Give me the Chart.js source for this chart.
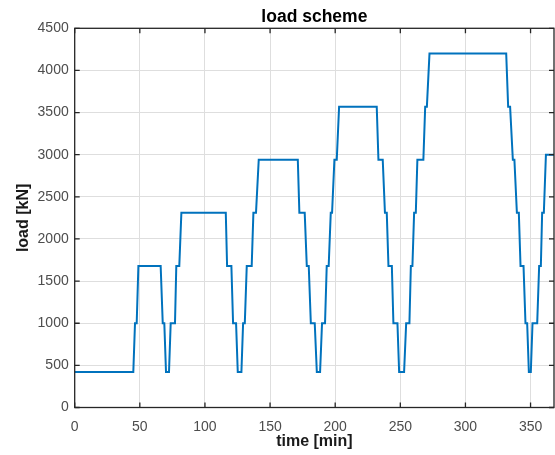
<!DOCTYPE html>
<html>
<head>
<meta charset="utf-8">
<script src="https://cdn.jsdelivr.net/npm/chart.js@4"></script>
<style>
  html, body { margin: 0; padding: 0; background: #fff; }
  #wrap { width: 555px; height: 455px; }
</style>
</head>
<body>
<div id="wrap"><canvas id="myChart"></canvas></div>
<script>
// load steps
var time = [0, 45, 46.3, 47.6, 48.9, 66, 67.6, 68.8, 70.1, 72.4, 73.7, 77, 78, 80.3, 81.9,
  116, 117, 120.3, 121.6, 123.9, 125.2, 128, 129.3, 130.6, 132.1, 135.9, 137.2, 139.2, 141.3,
  171.3, 172.5, 176.6, 178.2, 179.7, 181.3, 184.3, 185.9, 188.4, 189.9, 192.2, 193.5, 195, 196.6, 197.6, 199.4, 201.2, 203,
  231.9, 233.2, 236.5, 238.2, 239.6, 240.9, 243.5, 244.7, 247.8, 249.1, 252.9, 254.5, 257, 258.1, 259.3, 260.6, 261.9, 263.1, 267.7, 269.1, 270.4, 272.4,
  331.3, 332.8, 334.3, 336.4, 337.6, 339.5, 341, 342.3, 344.6, 346.1, 347.4, 348.7, 350.2, 351.5, 355.1, 356.6, 357.9, 358.9, 360.2, 361.8, 368];
var load = [420, 420, 1000, 1000, 1680, 1680, 1000, 1000, 420, 420, 1000, 1000, 1680, 1680, 2310,
  2310, 1680, 1680, 1000, 1000, 420, 420, 1000, 1000, 1680, 1680, 2310, 2310, 2940,
  2940, 2310, 2310, 1680, 1680, 1000, 1000, 420, 420, 1000, 1000, 1680, 1680, 2310, 2310, 2940, 2940, 3570,
  3570, 2940, 2940, 2310, 2310, 1680, 1680, 1000, 1000, 420, 420, 1000, 1000, 1680, 1680, 2310, 2310, 2940, 2940, 3570, 3570, 4200,
  4200, 3570, 3570, 2940, 2940, 2310, 2310, 1680, 1680, 1000, 1000, 420, 420, 1000, 1000, 1680, 1680, 2310, 2310, 3000, 3000];

var xMax = 368;
var yMax = 4500;

var points = time.map(function (t, i) { return { x: t, y: load[i] }; });

// matlab style box with inward ticks on all four sides
var boxTicks = {
  id: 'boxTicks',
  afterDatasetsDraw: function (chart) {
    var c = chart.ctx, a = chart.chartArea, sx = chart.scales.x, sy = chart.scales.y;
    c.save();
    c.strokeStyle = '#262626';
    c.lineWidth = 1.3;
    c.beginPath();
    sx.ticks.forEach(function (t) {
      var px = sx.getPixelForValue(t.value);
      c.moveTo(px, a.bottom); c.lineTo(px, a.bottom - 5);
      c.moveTo(px, a.top); c.lineTo(px, a.top + 5);
    });
    sy.ticks.forEach(function (t) {
      var py = sy.getPixelForValue(t.value);
      c.moveTo(a.left, py); c.lineTo(a.left + 5, py);
      c.moveTo(a.right, py); c.lineTo(a.right - 5, py);
    });
    c.stroke();
    c.strokeRect(a.left, a.top, a.right - a.left, a.bottom - a.top);
    c.restore();
  }
};

Chart.defaults.font.family = '"Liberation Sans", Arial, Helvetica, sans-serif';

var ctx = document.getElementById('myChart');

new Chart(ctx, {
  type: 'line',
  data: {
    datasets: [{
      label: 'load',
      data: points,
      borderColor: '#0072BD',
      borderWidth: 2,
      pointRadius: 0,
      tension: 0,
      fill: false
    }]
  },
  options: {
    responsive: true,
    maintainAspectRatio: false,
    animation: false,
    layout: { padding: { left: 0, right: 1, top: 0, bottom: 0 } },
    plugins: {
      legend: { display: false },
      tooltip: { enabled: false },
      title: {
        display: true,
        text: 'load scheme',
        fullSize: false,
        color: '#000',
        font: { size: 17.5, weight: 'bold' },
        padding: { top: 6.5, bottom: 0.8 }
      }
    },
    scales: {
      x: {
        type: 'linear',
        min: 0,
        max: xMax,
        afterFit: function (s) { s.height = 47.5; },
        grid: { color: '#dedede', lineWidth: 1, drawTicks: false },
        border: { display: false },
        ticks: { stepSize: 50, includeBounds: false, padding: 11, color: '#4d4d4d', font: { size: 14 }, maxRotation: 0,
          callback: function (v) { return String(v); } },
        title: { display: true, text: 'time [min]', color: '#1a1a1a', font: { size: 16, weight: 'bold' }, padding: { top: 0, bottom: 4 } }
      },
      y: {
        min: 0,
        max: yMax,
        afterFit: function (s) { s.width = 74.7; },
        grid: { color: '#dedede', lineWidth: 1, drawTicks: false },
        border: { display: false },
        ticks: { stepSize: 500, padding: 6, color: '#4d4d4d', font: { size: 14 },
          callback: function (v) { return String(v); } },
        title: { display: true, text: 'load [kN]', color: '#1a1a1a', font: { size: 16, weight: 'bold' }, padding: { top: 14, bottom: 0 } }
      }
    }
  },
  plugins: [boxTicks]
});
</script>
</body>
</html>
